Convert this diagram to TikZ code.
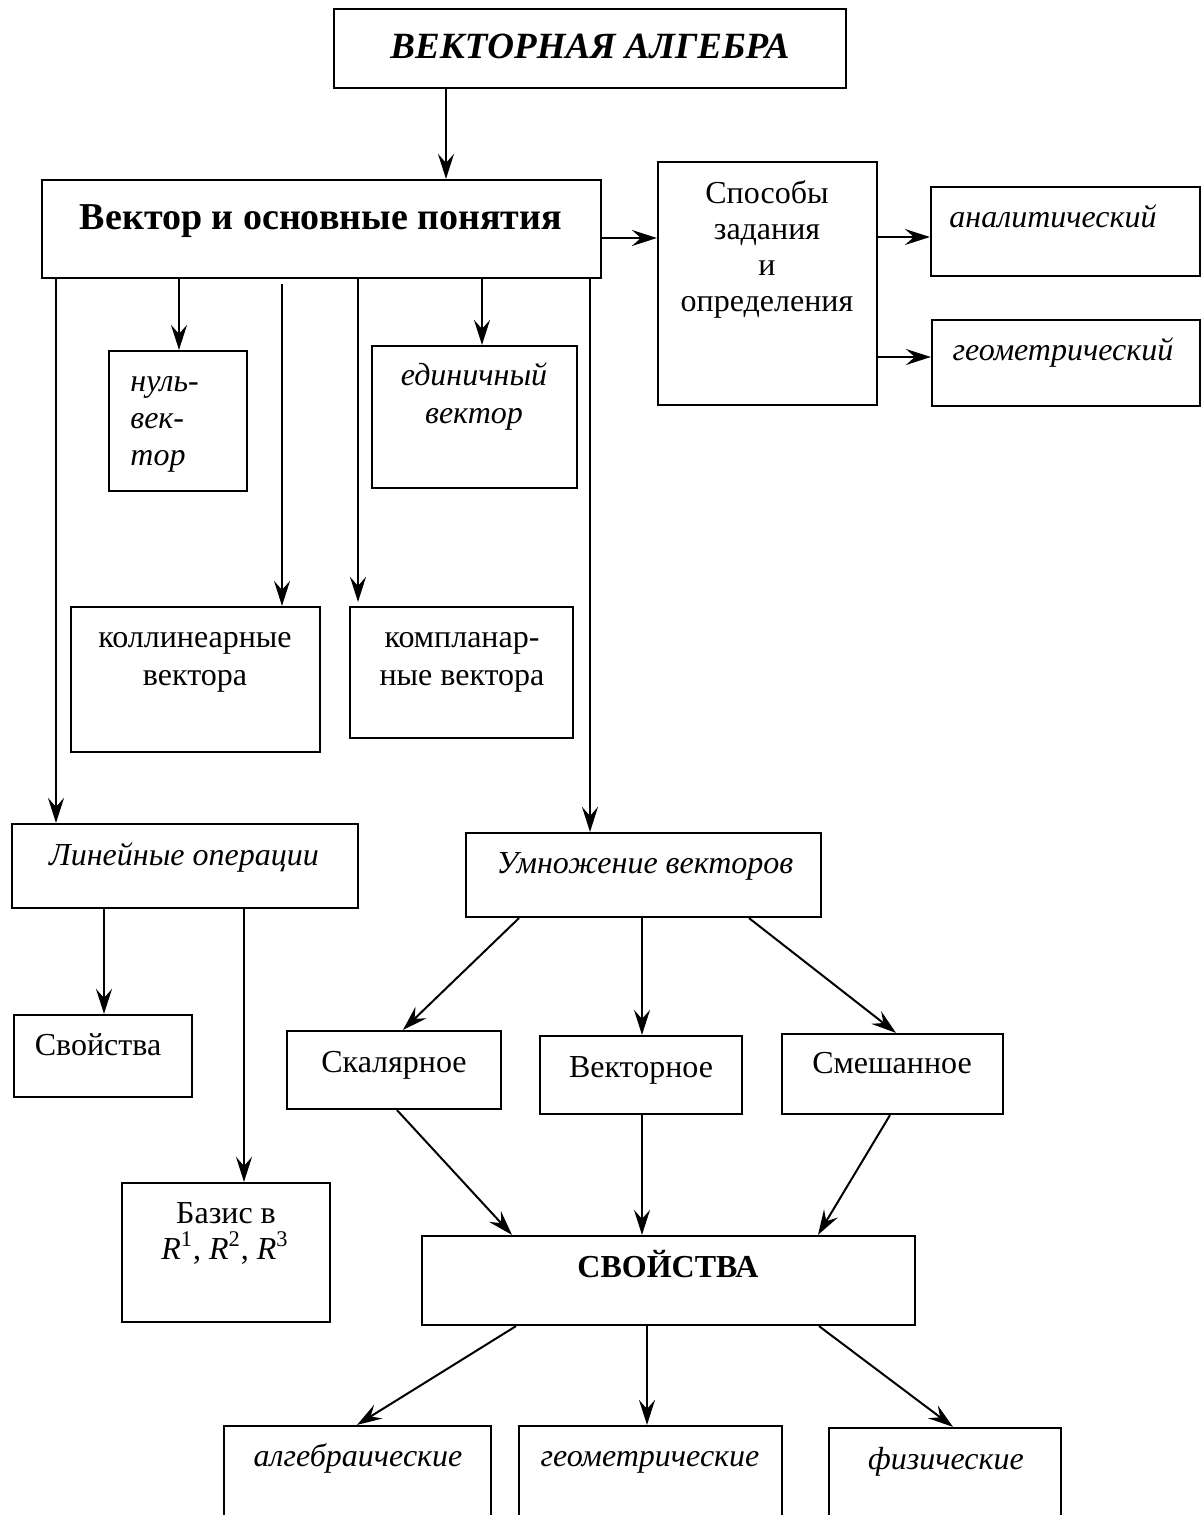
\documentclass[tikz,border=0pt]{standalone}
\usepackage{fontspec}
\setmainfont{Liberation Serif}
\usetikzlibrary{arrows.meta,fit}
\tikzset{
  box/.style={draw, line width=1.1pt, inner sep=0pt, rectangle},
  arr/.style={line width=1pt, -{Stealth[length=12.5pt,width=8pt,inset=4.5pt]}},
  txt/.style={inner sep=0pt, anchor=base, font=\fontsize{16}{18}\selectfont},
  txti/.style={txt, font=\fontsize{16}{18}\selectfont\itshape},
}
\begin{document}
\begin{tikzpicture}[x=0.5pt,y=-0.5pt]
\useasboundingbox (0,0) rectangle (1202,1515);
\fill[white] (0,0) rectangle (1202,1515);
\clip (0,0) rectangle (1202,1515);

% boxes
\node[box, fit={(334,9) (846,88)}] (title) {};
\node[box, fit={(42,180) (601,278)}] (main) {};
\node[box, fit={(658,162) (877,405)}] (spos) {};
\node[box, fit={(931,187) (1200,276)}] (anal) {};
\node[box, fit={(932,320) (1200,406)}] (geom) {};
\node[box, fit={(109,351) (247,491)}] (nul) {};
\node[box, fit={(372,346) (577,488)}] (edin) {};
\node[box, fit={(71,607) (320,752)}] (kol) {};
\node[box, fit={(350,607) (573,738)}] (komp) {};
\node[box, fit={(12,824) (358,908)}] (lin) {};
\node[box, fit={(466,833) (821,917)}] (umn) {};
\node[box, fit={(14,1015) (192,1097)}] (svo) {};
\node[box, fit={(122,1183) (330,1322)}] (baz) {};
\node[box, fit={(287,1031) (501,1109)}] (skal) {};
\node[box, fit={(540,1036) (742,1114)}] (vekt) {};
\node[box, fit={(782,1034) (1003,1114)}] (smesh) {};
\node[box, fit={(422,1236) (915,1325)}] (svoj) {};
\node[box, fit={(224,1426) (491,1560)}] (alg) {};
\node[box, fit={(519,1426) (782,1560)}] (geo2) {};
\node[box, fit={(829,1428) (1061,1560)}] (fiz) {};

% texts
\node[txt, font=\fontsize{18.5}{22}\selectfont\bfseries\itshape] (titleT) at (590,58) {ВЕКТОРНАЯ АЛГЕБРА};
\node[txt, font=\fontsize{19}{22}\selectfont\bfseries] (mainT) at (321,229) {Вектор и основные понятия};
\node[txt] (sposA) at (767,203) {Способы};
\node[txt] (sposB) at (767,239) {задания};
\node[txt] (sposC) at (767,275) {и};
\node[txt] (sposD) at (767,311) {определения};
\node[txti] (analT) at (1053,227) {аналитический};
\node[txti] (geomT) at (1063,360) {геометрический};
\node[txti, anchor=base west] (nulA) at (130,391) {нуль-};
\node[txti, anchor=base west] (nulB) at (130,428) {век-};
\node[txti, anchor=base west] (nulC) at (130,465) {тор};
\node[txti] (edinA) at (474,385) {единичный};
\node[txti] (edinB) at (474,423) {вектор};
\node[txt] (kolA) at (195,647) {коллинеарные};
\node[txt] (kolB) at (195,685) {вектора};
\node[txt] (kompA) at (462,647) {компланар-};
\node[txt] (kompB) at (462,685) {ные вектора};
\node[txti] (linT) at (184,865) {Линейные операции};
\node[txti] (umnT) at (645,873) {Умножение векторов};
\node[txt] (svoT) at (98,1055) {Свойства};
\node[txt] (bazA) at (226,1223) {Базис в};
\node[txt] (bazB) at (225,1259) {\textit{R}\textsuperscript{1}, \textit{R}\textsuperscript{2}, \textit{R}\textsuperscript{3}};
\node[txt] (skalT) at (394,1072) {Скалярное};
\node[txt] (vektT) at (641,1077) {Векторное};
\node[txt] (smeshT) at (892,1073) {Смешанное};
\node[txt, font=\fontsize{16}{18}\selectfont\bfseries] (svojT) at (668,1277) {СВОЙСТВА};
\node[txti] (algT) at (358,1466) {алгебраические};
\node[txti] (geo2T) at (650,1466) {геометрические};
\node[txti] (fizT) at (946,1469) {физические};

% connectors
\draw[arr] (title.south -| 446,0) -- (main.north -| 446,0);
\draw[arr] (main.east |- 0,238) -- (spos.west |- 0,238);
\draw[arr] (spos.east |- 0,237) -- (anal.west |- 0,237);
\draw[arr] (spos.east |- 0,357) -- (geom.west |- 0,357);
\draw[arr] (main.south -| 56,0) -- (lin.north -| 56,0);
\draw[arr] (main.south -| 179,0) -- (nul.north -| 179,0);
\draw[arr, shorten <=2.5pt] (main.south -| 282,0) -- (kol.north -| 282,0);
\draw[arr, shorten >=2pt] (main.south -| 358,0) -- (komp.north -| 358,0);
\draw[arr] (main.south -| 482,0) -- (edin.north -| 482,0);
\draw[arr] (main.south -| 590,0) -- (umn.north -| 590,0);
\draw[arr] (lin.south -| 104,0) -- (svo.north -| 104,0);
\draw[arr] (lin.south -| 244,0) -- (baz.north -| 244,0);
\draw[arr] (umn.south -| 519,0) -- (skal.north -| 403,0);
\draw[arr] (umn.south -| 642,0) -- (vekt.north -| 642,0);
\draw[arr] (umn.south -| 749,0) -- (smesh.north -| 896,0);
\draw[arr] (skal.south -| 397,0) -- (svoj.north -| 512,0);
\draw[arr] (vekt.south -| 642,0) -- (svoj.north -| 642,0);
\draw[arr] (smesh.south -| 890,0) -- (svoj.north -| 818,0);
\draw[arr] (svoj.south -| 516,0) -- (alg.north -| 357,0);
\draw[arr] (svoj.south -| 647,0) -- (geo2.north -| 647,0);
\draw[arr] (svoj.south -| 819,0) -- (fiz.north -| 953,0);
\end{tikzpicture}
\end{document}
